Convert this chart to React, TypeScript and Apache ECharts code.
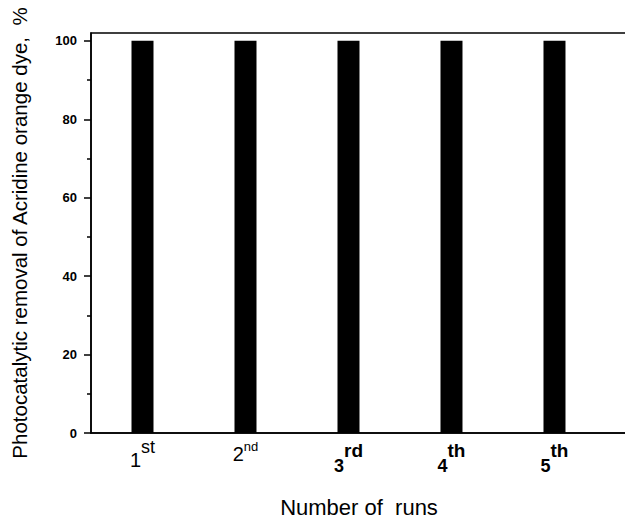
import React, { useEffect, useRef } from "react";
import * as echarts from "echarts";

// Run index on the x axis and the ordinal labels written under each bar
const runs = [1, 2, 3, 4, 5];
const runDigits = ["1", "2", "3", "4", "5"];
const runSuffixes = ["st", "nd", "rd", "th", "th"];
// Rich-text style keys used for digit / suffix of each ordinal label
const digitStyles = ["d1", "d2", "db", "db", "db"];
const suffixStyles = ["s1", "s2", "sb", "sb", "sb"];

// Photocatalytic removal (%) for each run
const removal = [100, 100, 100, 100, 100];

// Y axis ticks
const yMajorTicks = [0, 20, 40, 60, 80, 100];
const yMinorTicks = [10, 30, 50, 70, 90];

const FONT = "'Liberation Sans', Arial, Helvetica, sans-serif";

// token box heights place each glyph below (digit) or above (suffix) the line top
const tok = (fontSize: number, height: number, bold = false) => ({
  fontSize,
  height,
  verticalAlign: "top",
  fontWeight: bold ? "bold" : "normal",
  fontFamily: FONT,
  color: "#000",
});

export default function App() {
  const ref = useRef<HTMLDivElement>(null);

  useEffect(() => {
    if (!ref.current) return;
    const chart = echarts.init(ref.current, undefined, { renderer: "svg" });

    const option: echarts.EChartsCoreOption = {
      animation: false,
      backgroundColor: "#ffffff",
      grid: {
        left: 91,
        right: -2,
        top: 33,
        bottom: 85,
        outerBoundsMode: "none",
        containLabel: false,
        show: true,
        borderColor: "#000",
        borderWidth: 1.5,
        backgroundColor: "transparent",
      },
      xAxis: {
        type: "value",
        min: 0.5,
        max: 5.704,
        splitLine: { show: false },
        axisLine: { show: true, lineStyle: { color: "#000", width: 1.5 } },
        axisTick: { show: false },
        axisLabel: {
          customValues: runs,
          margin: 3,
          color: "#000",
          fontFamily: FONT,
          formatter: (v: number) => {
            const i = Math.round(v) - 1;
            return `{${digitStyles[i]}|${runDigits[i]}}{${suffixStyles[i]}|${runSuffixes[i]}}`;
          },
          rich: {
            d1: tok(20, 48),
            s1: tok(18, 21),
            d2: tok(20, 36),
            s2: tok(13, 20),
            db: tok(18, 59, true),
            sb: tok(19, 28, true),
          },
        },
        name: "Number of  runs",
        nameLocation: "middle",
        nameGap: 63,
        nameTextStyle: { fontSize: 22, fontFamily: FONT, color: "#000" },
      },
      yAxis: [
        {
          type: "value",
          min: 0,
          max: 102,
          interval: 20,
          splitLine: { show: false },
          axisLine: { show: true, lineStyle: { color: "#000", width: 1.5 } },
          axisTick: {
            show: true,
            inside: false,
            length: 7,
            customValues: yMajorTicks,
            lineStyle: { color: "#000", width: 1.5 },
          },
          axisLabel: {
            customValues: yMajorTicks,
            margin: 14,
            fontSize: 13,
            fontWeight: "bold",
            fontFamily: FONT,
            color: "#000",
          },
          name: "Photocatalytic removal of Acridine orange dye,  %",
          nameLocation: "middle",
          nameGap: 61,
          nameTextStyle: { fontSize: 20.5, fontFamily: FONT, color: "#000" },
        },
        {
          type: "value",
          min: 0,
          max: 102,
          position: "left",
          splitLine: { show: false },
          axisLine: { show: false },
          axisLabel: { show: false },
          axisTick: {
            show: true,
            inside: false,
            length: 4,
            customValues: yMinorTicks,
            lineStyle: { color: "#000", width: 1.5 },
          },
        },
      ],
      series: [
        {
          type: "bar",
          yAxisIndex: 0,
          barWidth: 22,
          itemStyle: { color: "#000" },
          data: runs.map((r, i) => [r, removal[i]]),
        },
      ],
    };

    chart.setOption(option);
    return () => chart.dispose();
  }, []);

  return (
    <div
      ref={ref}
      style={{ position: "absolute", left: 0, top: 0, width: 625, height: 518 }}
    />
  );
}
